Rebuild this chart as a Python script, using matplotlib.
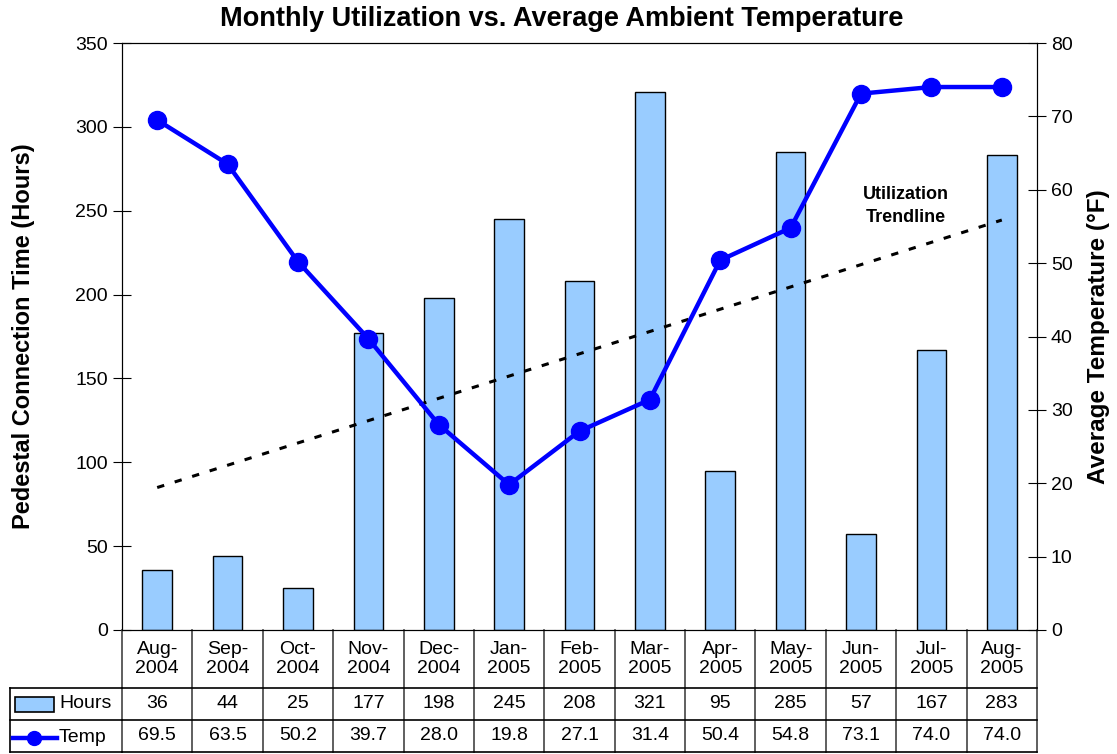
import matplotlib.pyplot as plt
import numpy as np
from matplotlib.patches import Rectangle
from matplotlib.lines import Line2D

plt.rcParams['font.family'] = ['Liberation Sans', 'DejaVu Sans']

months = ['Aug-\n2004', 'Sep-\n2004', 'Oct-\n2004', 'Nov-\n2004', 'Dec-\n2004', 'Jan-\n2005',
          'Feb-\n2005', 'Mar-\n2005', 'Apr-\n2005', 'May-\n2005', 'Jun-\n2005', 'Jul-\n2005', 'Aug-\n2005']
hours = [36, 44, 25, 177, 198, 245, 208, 321, 95, 285, 57, 167, 283]
temp = [69.5, 63.5, 50.2, 39.7, 28.0, 19.8, 27.1, 31.4, 50.4, 54.8, 73.1, 74.0, 74.0]

x = np.arange(len(hours))
slope, icept = np.polyfit(x, hours, 1)
trend = slope * x + icept

fig = plt.figure(figsize=(11.17, 7.54), dpi=100)
ax = fig.add_axes([122 / 1117, 124 / 754, 915 / 1117, 587 / 754])

ax.bar(x, hours, width=0.42, color='#99CCFF', edgecolor='black', linewidth=1, zorder=2)
ax.plot(x, trend, color='black', linestyle=(0, (2.4, 3.6)), linewidth=2.2, zorder=3)
ax.set_xlim(-0.5, len(hours) - 0.5)
ax.set_ylim(0, 350)
ax.set_yticks(range(0, 351, 50))
ax.set_xticks([])
ax.tick_params(axis='y', labelsize=14, direction='inout', length=13)
ax.set_ylabel('Pedestal Connection Time (Hours)', fontsize=17, fontweight='bold', labelpad=29)
fig.text(562 / 1117, 1 - 19 / 754, 'Monthly Utilization vs. Average Ambient Temperature',
         ha='center', va='center', fontsize=19.5, fontweight='bold')
ax.text(10.63, 253, 'Utilization\nTrendline', ha='center', va='center', fontsize=13,
        fontweight='bold', linespacing=1.45)

ax2 = ax.twinx()
ax2.plot(x, temp, color='#0000FF', linewidth=3.2, marker='o', markersize=13, zorder=4)
ax2.set_ylim(0, 80)
ax2.set_yticks(range(0, 81, 10))
ax2.tick_params(axis='y', labelsize=14, direction='inout', length=13)
ax2.set_ylabel('Average Temperature (°F)', fontsize=17.5, fontweight='bold', labelpad=10)
ax2.set_xlim(-0.5, len(hours) - 0.5)

# data table under the plot
tr = ax.get_xaxis_transform()
ph = 587.0
y_hdr = -58 / ph
y_r1 = -90 / ph
y_r2 = -122 / ph
lc = '#444444'
for b in np.arange(-0.5, len(hours), 1.0):
    ax.add_line(Line2D([b, b], [0, y_r2], transform=tr, color=lc, lw=1.2, clip_on=False))
for yy in (y_hdr, y_r1, y_r2):
    l = Line2D([-0.5, len(hours) - 0.5], [yy, yy], transform=tr, color='black', lw=1.2, clip_on=False)
    ax.add_line(l)
for i in x:
    ax.text(i, y_hdr / 2, months[i], transform=tr, ha='center', va='center', fontsize=14, linespacing=1.2)
    ax.text(i, (y_hdr + y_r1) / 2, str(hours[i]), transform=tr, ha='center', va='center', fontsize=14)
    ax.text(i, (y_r1 + y_r2) / 2, '%.1f' % temp[i], transform=tr, ha='center', va='center', fontsize=14)

# legend column of the table, in figure pixels
def fx(px):
    return px / 1117.0

def fy(py):
    return 1 - py / 754.0

for yy in (688, 720, 752):
    fig.add_artist(Line2D([fx(10), fx(122)], [fy(yy), fy(yy)], color='black', lw=1.2))
fig.add_artist(Line2D([fx(10), fx(10)], [fy(688), fy(752)], color='black', lw=1.2))
fig.add_artist(Rectangle((fx(15), fy(712)), fx(39), 15 / 754.0, facecolor='#99CCFF',
                         edgecolor='black', lw=1.2))
fig.text(fx(59), fy(704), 'Hours', ha='left', va='center', fontsize=14)
fig.add_artist(Line2D([fx(13), fx(57)], [fy(738), fy(738)], color='#0000FF', lw=3.2))
fig.add_artist(Line2D([fx(34)], [fy(738)], color='#0000FF', marker='o', markersize=10, lw=0))
fig.text(fx(59), fy(738), 'Temp', ha='left', va='center', fontsize=14)

fig.savefig('out.png', dpi=100)
